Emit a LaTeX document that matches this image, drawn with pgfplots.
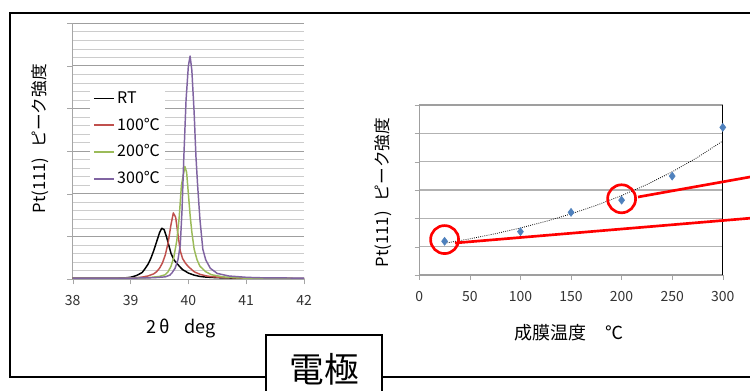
\documentclass[border=0pt]{standalone}
\usepackage{fontspec}
\setmainfont{Noto Sans CJK JP}
\usepackage{pgfplots}
\pgfplotsset{compat=1.18}
\definecolor{xred}{HTML}{C0504D}
\definecolor{xgreen}{HTML}{9BBB59}
\definecolor{xpurple}{HTML}{8064A2}
\definecolor{xblue}{HTML}{4F81BD}
\begin{document}
\begin{tikzpicture}[x=0.75pt,y=0.75pt]
\useasboundingbox (0,0) rectangle (750,391);
\clip (0,0) rectangle (750,391);
\fill[white] (0,0) rectangle (750,391);
% outer frame
\draw[line width=1.5pt] (770,378) -- (10,378) -- (10,14) -- (770,14);

% ---------- left chart ----------
\begin{axis}[
  at={(54.525pt,84pt)}, anchor=south west, scale only axis,
  width=173.5pt, height=191.8pt,
  xmin=38, xmax=42, ymin=0, ymax=6,
  axis x line*=bottom, axis y line*=left,
  axis line style={draw=gray!70, -},
  xtick={38,39,40,41,42}, ytick={0,1,2,3,4,5,6}, yticklabels={},
  minor y tick num=4,
  ymajorgrids, yminorgrids,
  major grid style={draw=gray!75, line width=0.6pt},
  minor grid style={draw=gray!40, line width=0.5pt},
  tick align=outside, major tick length=4pt, minor tick length=0pt,
  tick style={draw=gray!70},
  /pgf/number format/assume math mode=true,
  ticklabel style={font=\fontsize{10.5}{12}\selectfont, text=black!80},
  xticklabel style={yshift=-5pt},
  xlabel={2\,θ\hspace{0.8em}deg},
  xlabel style={font=\fontsize{13.5}{15}\selectfont, at={(axis description cs:0.47,-0.192)}, anchor=center},
  ylabel={Pt(111)\hspace{0.6em}ピーク強度},
  ylabel style={font=\fontsize{12.5}{14}\selectfont, at={(axis description cs:-0.141,0.548)}, anchor=center},
  legend style={at={(axis description cs:0.075,0.755)}, anchor=north west, fill=white, draw=none,
    font=\fontsize{12}{14}\selectfont, row sep=5.5pt, inner sep=2pt},
  legend cell align=left,
  legend image code/.code={\draw[#1, line width=1.2pt] (0pt,0pt) -- (15pt,0pt);},
  every axis plot/.append style={line width=1.1pt, line join=round},
]
\addplot[black] coordinates {
(38.0,0.02)(38.5,0.02)(38.9,0.025)(39.0,0.04)(39.1,0.08)(39.2,0.15)(39.25,0.24)(39.3,0.34)(39.35,0.48)(39.4,0.66)(39.45,0.87)(39.5,1.08)(39.54,1.19)(39.58,1.16)(39.62,1.0)(39.66,0.8)(39.7,0.6)(39.75,0.45)(39.8,0.37)(39.85,0.29)(39.9,0.22)(40.0,0.14)(40.1,0.09)(40.2,0.06)(40.3,0.045)(40.5,0.03)(40.8,0.02)(41.0,0.015)(42.0,0.01)};
\addlegendentry{RT}
\addplot[xred] coordinates {
(38.0,0.02)(38.8,0.02)(39.1,0.03)(39.2,0.045)(39.3,0.07)(39.4,0.12)(39.45,0.17)(39.5,0.25)(39.55,0.37)(39.6,0.56)(39.65,0.85)(39.7,1.28)(39.74,1.55)(39.78,1.45)(39.82,1.05)(39.86,0.66)(39.9,0.48)(39.95,0.37)(40.0,0.29)(40.1,0.17)(40.2,0.11)(40.3,0.075)(40.4,0.055)(40.6,0.035)(41.0,0.02)(42.0,0.01)};
\addlegendentry{100℃}
\addplot[xgreen] coordinates {
(38.0,0.02)(39.0,0.02)(39.3,0.03)(39.5,0.06)(39.6,0.1)(39.65,0.17)(39.7,0.3)(39.75,0.52)(39.8,0.9)(39.84,1.42)(39.88,2.2)(39.94,2.64)(39.97,2.5)(40.0,2.0)(40.03,1.5)(40.06,1.1)(40.1,0.7)(40.15,0.45)(40.2,0.3)(40.3,0.17)(40.4,0.1)(40.6,0.05)(40.8,0.03)(41.0,0.02)(42.0,0.01)};
\addlegendentry{200℃}
\addplot[xpurple] coordinates {
(38.0,0.02)(39.0,0.02)(39.4,0.03)(39.6,0.05)(39.68,0.09)(39.72,0.15)(39.77,0.25)(39.82,0.45)(39.86,0.8)(39.89,1.6)(39.92,2.8)(39.96,4.2)(40.0,5.0)(40.03,5.23)(40.06,4.9)(40.1,3.9)(40.13,2.9)(40.16,2.2)(40.2,1.4)(40.25,0.7)(40.3,0.45)(40.38,0.25)(40.5,0.13)(40.7,0.07)(41.0,0.04)(41.2,0.03)(42.0,0.02)};
\addlegendentry{300℃}
\end{axis}

% ---------- right chart ----------
\begin{axis}[
  at={(314.475pt,87pt)}, anchor=south west, scale only axis,
  width=227.6pt, height=127.5pt,
  xmin=0, xmax=300, ymin=0, ymax=6,
  xtick={0,50,100,150,200,250,300}, ytick={0,1,2,3,4,5,6}, yticklabels={},
  ymajorgrids,
  major grid style={draw=gray!60, line width=0.8pt},
  axis line style={draw=gray!75, line width=0.8pt},
  tick align=outside, tick pos=left, major tick length=3.5pt,
  tick style={draw=gray!70},
  /pgf/number format/assume math mode=true,
  ticklabel style={font=\fontsize{10.5}{12}\selectfont, text=black!80},
  xticklabel style={yshift=-5pt},
  xlabel={成膜温度\hspace{1.1em}℃},
  xlabel style={font=\fontsize{13.5}{15}\selectfont, at={(axis description cs:0.493,-0.341)}, anchor=center},
  ylabel={Pt(111)\hspace{0.6em}ピーク強度},
  ylabel style={font=\fontsize{12.5}{14}\selectfont, at={(axis description cs:-0.118,0.485)}, anchor=center},
  clip=false,
]
\addplot[black, densely dotted, line width=0.6pt] coordinates {
(25,1.121)(50,1.277)(75,1.456)(100,1.660)(125,1.892)(150,2.156)(175,2.458)(200,2.802)(225,3.194)(250,3.641)(275,4.150)(300,4.730)};
\addplot[only marks, mark=diamond*, mark size=3pt, color=xblue] coordinates {
(25,1.19)(100,1.53)(150,2.21)(200,2.64)(250,3.49)(300,5.21)};
\draw[black, line width=0.8pt] (rel axis cs:1,0) -- (rel axis cs:1,1);
\draw[red, line width=2pt] (axis cs:25,1.25) circle[radius=10.5pt];
\draw[red, line width=2pt] (axis cs:200,2.69) circle[radius=10.5pt];
\end{axis}

% red connector lines
\draw[red, line width=2pt] (455,148) -- (760,173.6);
\draw[red, line width=2pt] (638,194) -- (760,215.8);

% electrode box
\draw[line width=1.5pt, fill=white] (266,-10) rectangle (382,56);
\node[font=\fontsize{26}{28}\selectfont] at (324,22) {電極};
\end{tikzpicture}
\end{document}
